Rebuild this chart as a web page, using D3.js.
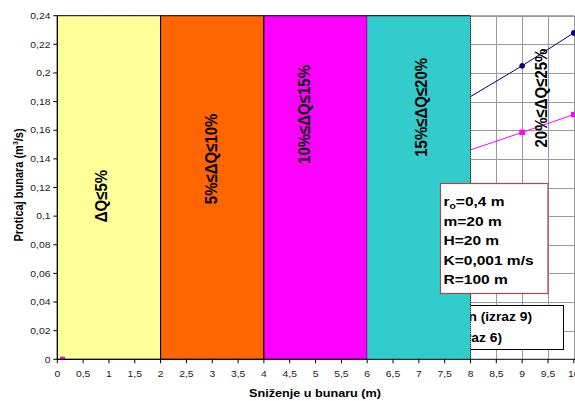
<!DOCTYPE html>
<html><head><meta charset="utf-8">
<script src="https://cdn.jsdelivr.net/npm/d3@7"></script>
<style>html,body{margin:0;padding:0;background:#fff}svg{display:block}text{font-family:"Liberation Sans",Arial,sans-serif}</style>
</head><body>
<svg id="c" width="575" height="401"></svg>
<script>
// ---- data ----
const xTicks = [0,0.5,1,1.5,2,2.5,3,3.5,4,4.5,5,5.5,6,6.5,7,7.5,8,8.5,9,9.5,10];
const xTickLabels = ["0","0,5","1","1,5","2","2,5","3","3,5","4","4,5","5","5,5","6","6,5","7","7,5","8","8,5","9","9,5","10"];
const yTicks = [0,0.02,0.04,0.06,0.08,0.1,0.12,0.14,0.16,0.18,0.2,0.22,0.24];
const yTickLabels = ["0","0,02","0,04","0,06","0,08","0,1","0,12","0,14","0,16","0,18","0,2","0,22","0,24"];
const sX = [0.1, 7, 9, 10];                 // sniženje (m)
const qBlue = [0, 0.162, 0.205, 0.228];     // proticaj (m3/s), izraz 9
const qPink = [0, 0.134, 0.1585, 0.171];    // proticaj (m3/s), izraz 6
const zoneFrom = [0, 2, 4, 6];
const zoneTo = [2, 4, 6, 8];
const zoneLabels = ["ΔQ≤5%", "5%≤ΔQ≤10%", "10%≤ΔQ≤15%", "15%≤ΔQ≤20%", "20%≤ΔQ≤25%"];
const paramLines = [["r","o","=0,4 m"],["m=20 m"],["H=20 m"],["K=0,001 m/s"],["R=100 m"]];
const legendLabels = ["Q proračun (izraz 9)", "Q (izraz 6)"];

// ---- layout / style ----
const zoneColors = ["#FFFF99", "#FF6600", "#FF00FF", "#33CCCC"];
const labelPos = [[0.86,0.114],[2.99,0.140],[4.80,0.171],[7.06,0.176],[9.38,0.1825]];
const SX = 1.15; // horizontal text stretch
const svg = d3.select("#c");
const x = d3.scaleLinear().domain([0,10]).range([57.3, 573.8]);
const y = d3.scaleLinear().domain([0,0.24]).range([359.3, 15.7]);
const pLeft = x(0), pRight = x(10), pTop = y(0.24), pBottom = y(0);

svg.append("defs").append("clipPath").attr("id","pc")
  .append("rect").attr("x",pLeft).attr("y",pTop).attr("width",pRight-pLeft+2).attr("height",pBottom-pTop);

function stext(g, tx, ty, str, opts){
  const t = g.append("text")
    .attr("transform", `translate(${tx},${ty}) scale(${SX},1)` + (opts.rot ? " rotate(-90)" : ""))
    .attr("font-size", opts.size).attr("font-weight", opts.bold ? "bold" : "normal")
    .attr("fill", opts.fill || "#000").attr("text-anchor", opts.anchor || "start");
  if (opts.dy) t.attr("dy", opts.dy);
  if (str !== null) t.text(str);
  return t;
}

// grid
const grid = svg.append("g");
grid.selectAll("line.h").data(yTicks.slice(1)).join("line")
  .attr("x1",pLeft).attr("x2",pRight).attr("y1",d=>Math.round(y(d))+0.5).attr("y2",d=>Math.round(y(d))+0.5)
  .attr("stroke","#999").attr("stroke-width",1);
grid.selectAll("line.v").data(xTicks.slice(1)).join("line")
  .attr("y1",pTop).attr("y2",pBottom).attr("x1",d=>Math.round(x(d))+0.5).attr("x2",d=>Math.round(x(d))+0.5)
  .attr("stroke","#999").attr("stroke-width",1);

// series (lines + markers)
const series = [
  {q: qBlue, color: "#000080", shape: "circle"},
  {q: qPink, color: "#FF00FF", shape: "square"}
];
const line = d3.line().x(d=>x(d[0])).y(d=>y(d[1]));
const sg = svg.append("g").attr("clip-path","url(#pc)");
function drawMarkers(g, s, pts){
  if (s.shape === "circle")
    g.selectAll(null).data(pts).join("circle").attr("cx",d=>x(d[0])).attr("cy",d=>y(d[1])).attr("r",2.6).attr("fill",s.color);
  else
    g.selectAll(null).data(pts).join("rect").attr("x",d=>x(d[0])-2.6).attr("y",d=>y(d[1])-2.6).attr("width",5.2).attr("height",5.2).attr("fill",s.color);
}
series.forEach(s=>{
  const pts = sX.map((v,i)=>[v, s.q[i]]);
  sg.append("path").datum(pts).attr("d",line).attr("fill","none").attr("stroke",s.color).attr("stroke-width",1);
  drawMarkers(sg, s, pts);
});

// legend (partly hidden behind last zone)
const lg = svg.append("g");
lg.append("rect").attr("x",380.5).attr("y",305.5).attr("width",183).attr("height",44).attr("fill","#fff").attr("stroke","#000");
stext(lg, 532, 320.5, legendLabels[0], {size:12, bold:true, anchor:"end"});
stext(lg, 502, 342, legendLabels[1], {size:12, bold:true, anchor:"end"});

// zones
const zg = svg.append("g");
zoneFrom.forEach((z,i)=>{
  zg.append("rect").attr("x",x(z)).attr("y",pTop).attr("width",x(zoneTo[i])-x(z)).attr("height",pBottom-pTop)
    .attr("fill",zoneColors[i]).attr("stroke", i===3 ? "none" : "#000").attr("stroke-width",1);
});
zg.append("line").attr("x1",x(6)).attr("x2",x(8)).attr("y1",pTop).attr("y2",pTop).attr("stroke","#000");
zg.append("line").attr("x1",x(8)).attr("x2",x(8)).attr("y1",pTop).attr("y2",pBottom).attr("stroke","#000").attr("stroke-dasharray","1,1");

// markers on the axis and right of zones drawn above zones
const topM = svg.append("g").attr("clip-path","url(#pc)");
series.forEach(s=>{
  const pts = sX.map((v,i)=>[v, s.q[i]]).filter(d=>d[1]===0 || d[0] > zoneTo[zoneTo.length-1]);
  drawMarkers(topM, s, pts);
});

// plot frame top (light) and axes
svg.append("line").attr("x1",x(8)).attr("x2",pRight).attr("y1",pTop).attr("y2",pTop).attr("stroke","#999");
const ax = svg.append("g");
ax.append("line").attr("x1",pLeft).attr("x2",pLeft).attr("y1",pTop).attr("y2",pBottom+0.5).attr("stroke","#000");
ax.append("line").attr("x1",pLeft).attr("x2",pRight+2).attr("y1",pBottom).attr("y2",pBottom).attr("stroke","#000");
ax.selectAll("line.yt").data(yTicks).join("line").attr("x1",pLeft-4).attr("x2",pLeft).attr("y1",d=>y(d)).attr("y2",d=>y(d)).attr("stroke","#000");
ax.selectAll("line.xt").data(xTicks).join("line").attr("y1",pBottom).attr("y2",pBottom+4).attr("x1",d=>x(d)).attr("x2",d=>x(d)).attr("stroke","#000");
yTicks.forEach((v,i)=> stext(ax, 50.5, y(v)+3.2, yTickLabels[i], {size:9, anchor:"end", fill:"#222"}));
xTicks.forEach((v,i)=> stext(ax, x(v), 376.5, xTickLabels[i], {size:9, anchor:"middle", fill:"#222"}));

// axis titles
stext(svg, 315, 397, "Sniženje u bunaru (m)", {size:11, bold:true, anchor:"middle"});
const yt = stext(svg, 23, 185, null, {size:11, bold:true, anchor:"middle", rot:true});
yt.append("tspan").text("Proticaj bunara (m");
yt.append("tspan").attr("font-size",7).attr("dy",-4).text("3");
yt.append("tspan").attr("dy",4).text("/s)");

// zone labels
zoneLabels.forEach((t,i)=>{
  stext(svg, x(labelPos[i][0]) + 5, y(labelPos[i][1]), t, {size:15, bold:true, anchor:"middle", rot:true});
});

// parameter box
const pb = svg.append("g");
pb.append("rect").attr("x",440.5).attr("y",183.5).attr("width",107.5).attr("height",110).attr("fill","#fff").attr("stroke","#b04848").attr("stroke-width",1.2);
const base = [205.5, 225.5, 245, 264.5, 284];
paramLines.forEach((p,i)=>{
  const t = stext(pb, 443.5, base[i], null, {size:13.5, bold:true});
  if (p.length === 3){
    t.append("tspan").text(p[0]);
    t.append("tspan").attr("font-size",9).attr("dy",3).text(p[1]);
    t.append("tspan").attr("dy",-3).text(p[2]);
  } else t.text(p[0]);
});
</script>
</body></html>
